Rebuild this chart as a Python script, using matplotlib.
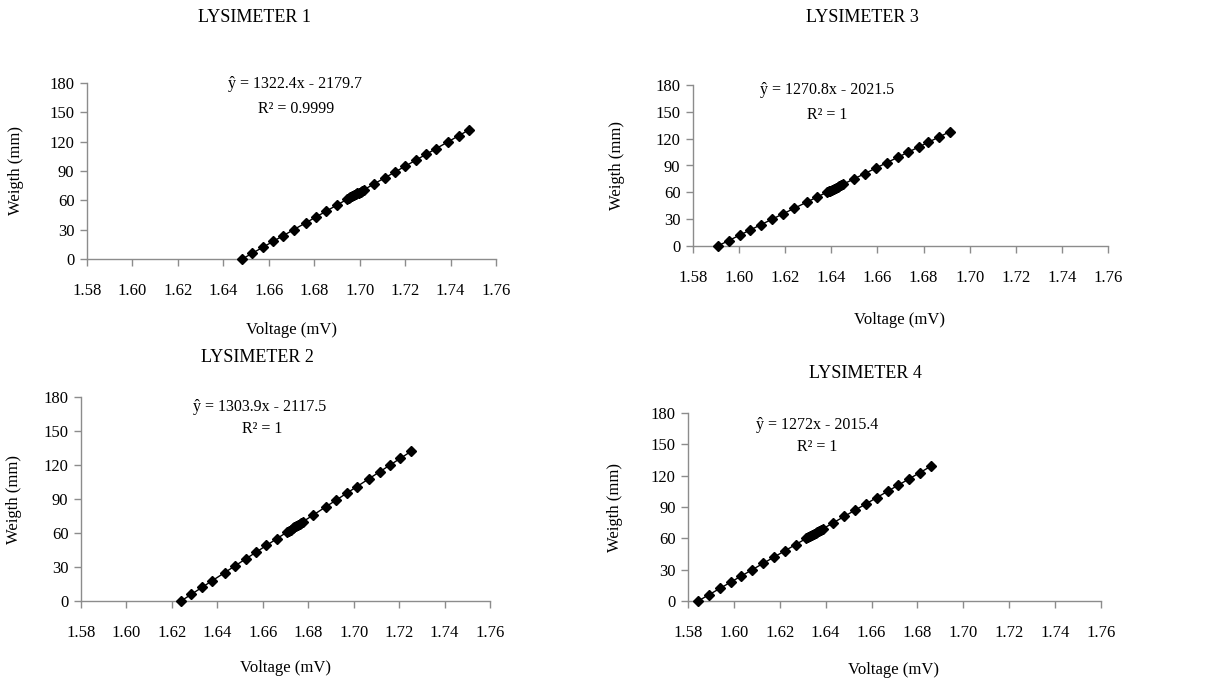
import numpy as np
import matplotlib
matplotlib.use('Agg')
import matplotlib.pyplot as plt

plt.rcParams.update({
    'font.family': ['Liberation Serif', 'DejaVu Serif'],
    'font.size': 12,
    'axes.unicode_minus': False,
})

W, H = 1225, 681

# ---- data ----
lys1_v = [1.6483, 1.6528, 1.6574, 1.6619, 1.6664, 1.6710, 1.6763, 1.6808, 1.6853, 1.6899,
          1.6944, 1.6952, 1.6959, 1.6967, 1.6974, 1.6982, 1.6990, 1.6997, 1.7005, 1.7012,
          1.7020, 1.7065, 1.7110, 1.7156, 1.7201, 1.7246, 1.7292, 1.7337, 1.7390, 1.7435,
          1.7481]
lys1_w = [0, 6, 12, 18, 24, 30, 37, 43, 49, 55, 61, 62, 63, 64, 65, 66, 67, 68, 69, 70,
          71, 77, 83, 89, 95, 101, 107, 113, 120, 126, 132]

lys2_v = [1.6240, 1.6286, 1.6332, 1.6378, 1.6432, 1.6478, 1.6524, 1.6570, 1.6616, 1.6662,
          1.6708, 1.6716, 1.6723, 1.6731, 1.6739, 1.6747, 1.6754, 1.6762, 1.6770, 1.6777,
          1.6823, 1.6877, 1.6923, 1.6969, 1.7015, 1.7068, 1.7114, 1.7160, 1.7206, 1.7252]
lys2_w = [0, 6, 12, 18, 25, 31, 37, 43, 49, 55, 61, 62, 63, 64, 65, 66, 67, 68, 69, 70,
          76, 83, 89, 95, 101, 108, 114, 120, 126, 132]

lys3_v = [1.5907, 1.5954, 1.6002, 1.6049, 1.6096, 1.6143, 1.6191, 1.6238, 1.6293, 1.6340,
          1.6380, 1.6388, 1.6395, 1.6403, 1.6411, 1.6419, 1.6427, 1.6435, 1.6443, 1.6451,
          1.6498, 1.6545, 1.6592, 1.6640, 1.6687, 1.6734, 1.6781, 1.6821, 1.6868, 1.6915]
lys3_w = [0, 6, 12, 18, 24, 30, 36, 42, 49, 55, 60, 61, 62, 63, 64, 65, 66, 67, 68, 69,
          75, 81, 87, 93, 99, 105, 111, 116, 122, 128]

lys4_v = [1.5844, 1.5891, 1.5938, 1.5986, 1.6033, 1.6080, 1.6127, 1.6175, 1.6222, 1.6269,
          1.6316, 1.6324, 1.6332, 1.6340, 1.6348, 1.6356, 1.6364, 1.6371, 1.6379, 1.6387,
          1.6434, 1.6481, 1.6528, 1.6575, 1.6623, 1.6670, 1.6717, 1.6764, 1.6811, 1.6858]
lys4_w = [0, 6, 12, 18, 24, 30, 36, 42, 48, 54, 60, 61, 62, 63, 64, 65, 66, 67, 68, 69,
          75, 81, 87, 93, 99, 105, 111, 117, 123, 129]

titles = ['LYSIMETER 1', 'LYSIMETER 2', 'LYSIMETER 3', 'LYSIMETER 4']
equations = ['ŷ = 1322.4x - 2179.7', 'ŷ = 1303.9x - 2117.5',
             'ŷ = 1270.8x - 2021.5', 'ŷ = 1272x - 2015.4']
r2_labels = ['R² = 0.9999', 'R² = 1', 'R² = 1', 'R² = 1']
x_ticks = [1.58, 1.60, 1.62, 1.64, 1.66, 1.68, 1.70, 1.72, 1.74, 1.76]
y_ticks = [0, 30, 60, 90, 120, 150, 180]

series = [(lys1_v, lys1_w), (lys2_v, lys2_w), (lys3_v, lys3_w), (lys4_v, lys4_w)]

# ---- layout in pixels: axes box (left, top, right, bottom), title, eq, r2, xlabel, ylabel x
layout = [
    dict(box=(87, 83, 496, 259), title=(255, 17), eq=(295, 84), r2=(296, 109),
         xl=(291, 330), yl=16),
    dict(box=(81, 397, 490, 601), title=(257, 357), eq=(260, 407), r2=(262, 429),
         xl=(285, 668), yl=14),
    dict(box=(693, 85, 1108, 246), title=(862, 18), eq=(827, 90), r2=(827, 115),
         xl=(900, 320), yl=617),
    dict(box=(688, 413, 1101, 601), title=(865, 373), eq=(817, 425), r2=(817, 447),
         xl=(893, 670), yl=615),
]


def fx(px):
    return px / W


def fy(py):
    return 1 - py / H


fig = plt.figure(figsize=(W / 100, H / 100), dpi=100)
GRAY = '#8c8c8c'

for (volt, weight), lay, title, eq, r2 in zip(series, layout, titles, equations, r2_labels):
    l, t, r, b = lay['box']
    ax = fig.add_axes([fx(l), fy(b), fx(r) - fx(l), fy(t) - fy(b)])
    volt = np.array(volt)
    weight = np.array(weight)

    # linear trendline through the points
    coef = np.polyfit(volt, weight, 1)
    xs = np.array([volt.min(), volt.max()])
    ax.plot(xs, np.polyval(coef, xs), color='black', lw=1.0, zorder=2)
    ax.plot(volt, weight, linestyle='None', marker='D', markersize=5.2,
            color='black', zorder=3)

    ax.set_xlim(1.58, 1.76)
    ax.set_ylim(0, 180)
    ax.set_xticks(x_ticks)
    ax.set_xticklabels([f'{v:.2f}' for v in x_ticks])
    ax.set_yticks(y_ticks)
    for s in ['top', 'right']:
        ax.spines[s].set_visible(False)
    for s in ['left', 'bottom']:
        ax.spines[s].set_color(GRAY)
        ax.spines[s].set_linewidth(1.0)
    ax.tick_params(axis='both', direction='out', length=5, width=1.0,
                   color=GRAY, labelsize=12, labelcolor='black')
    ax.tick_params(axis='x', pad=12)
    ax.tick_params(axis='y', pad=4)
    for line in ax.lines:
        line.set_clip_on(False)

    fig.text(fx(lay['title'][0]), fy(lay['title'][1]), title, ha='center',
             va='center', fontsize=13)
    fig.text(fx(lay['eq'][0]), fy(lay['eq'][1]), eq, ha='center', va='center',
             fontsize=11.5)
    fig.text(fx(lay['r2'][0]), fy(lay['r2'][1]), r2, ha='center', va='center',
             fontsize=11.5)
    fig.text(fx(lay['xl'][0]), fy(lay['xl'][1]), 'Voltage (mV)', ha='center',
             va='center', fontsize=12)
    fig.text(fx(lay['yl']), fy((t + b) / 2), 'Weigth (mm)', ha='center',
             va='center', rotation=90, fontsize=12)

fig.savefig('out.png', dpi=100)
